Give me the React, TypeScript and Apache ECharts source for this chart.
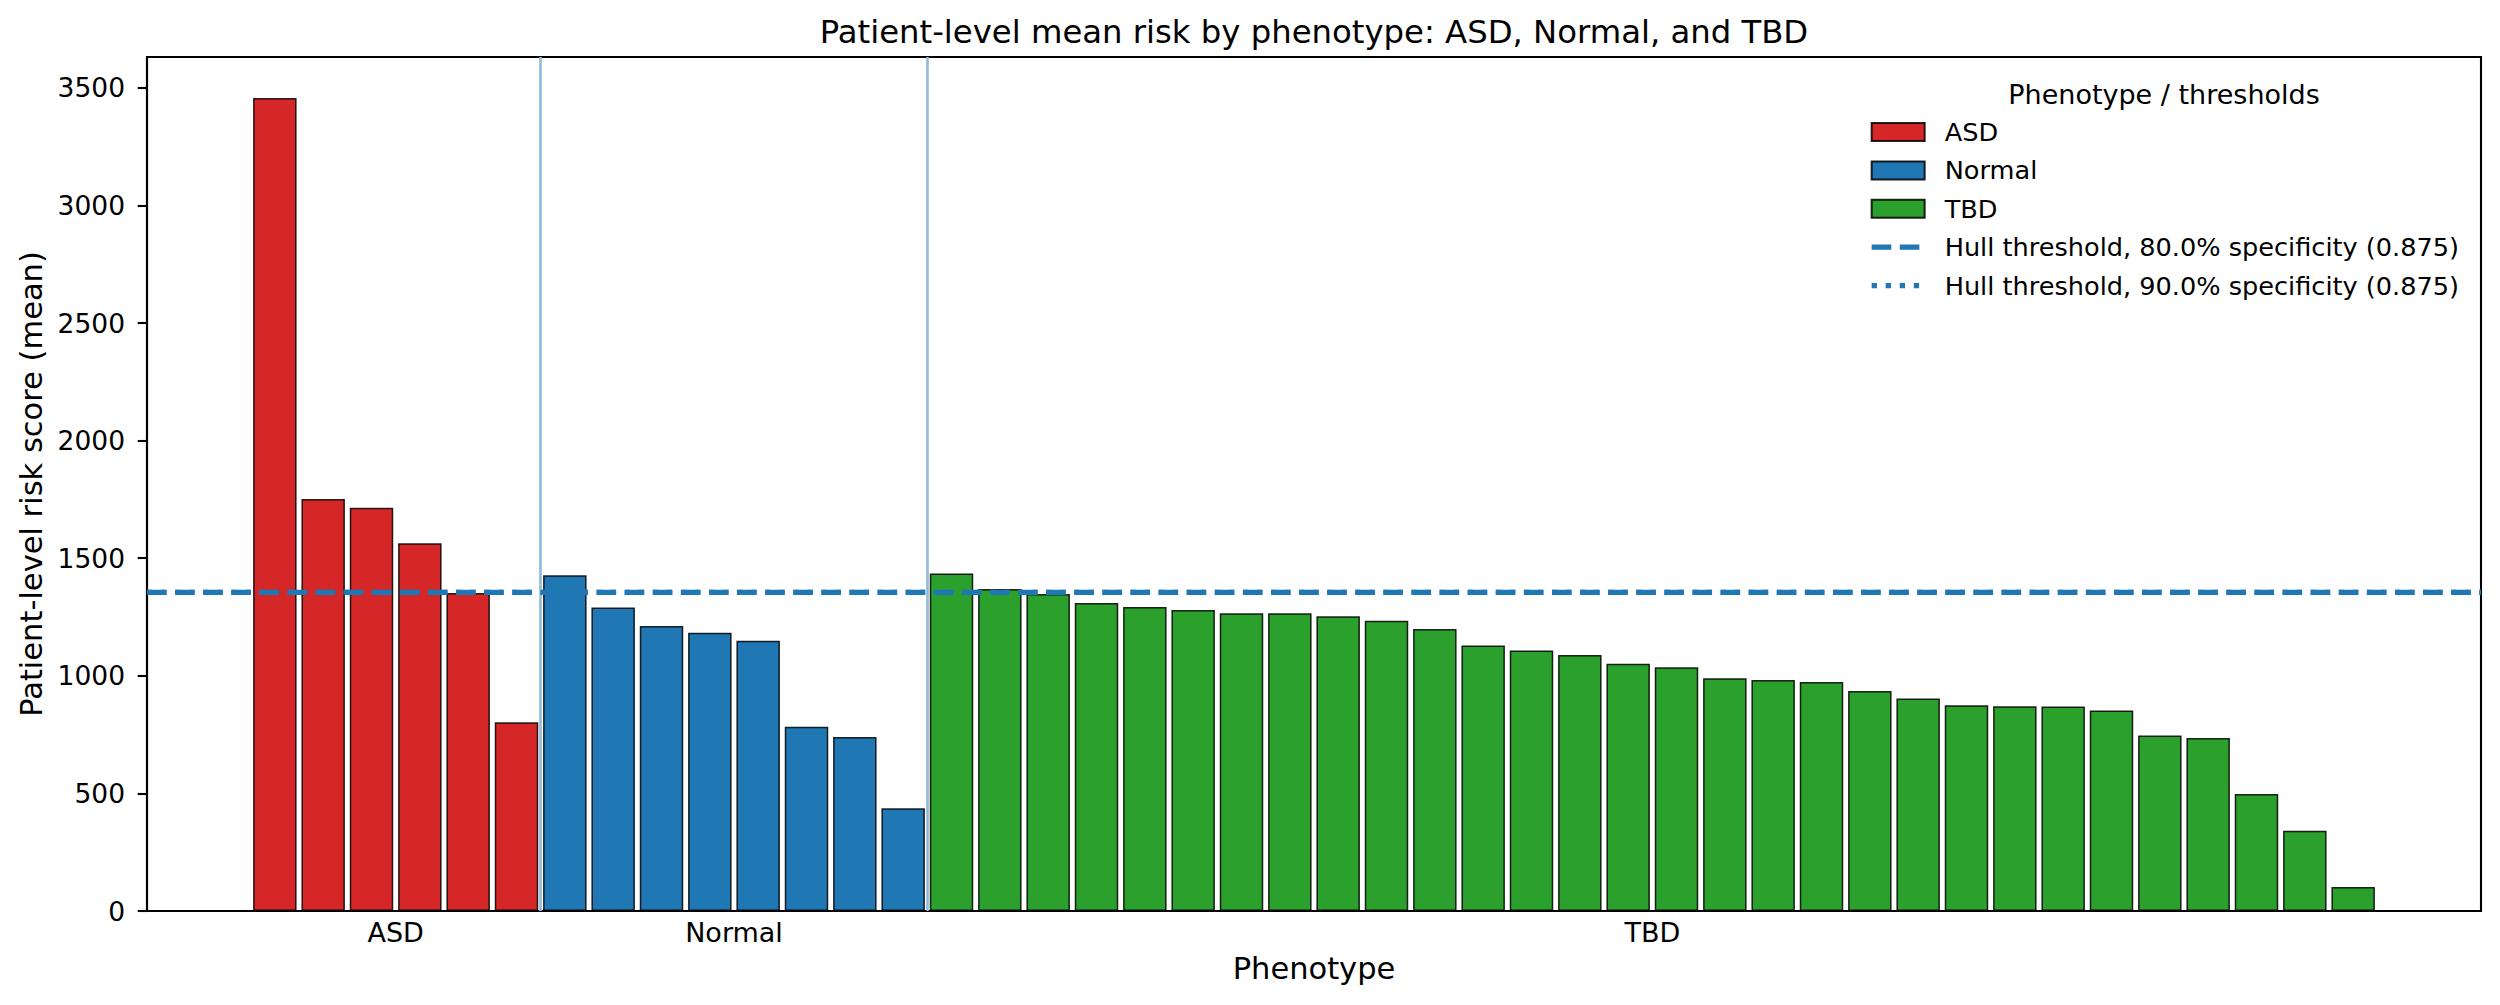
import React, { useEffect, useRef } from "react";
import * as echarts from "echarts";

const groupNames = ["ASD", "Normal", "TBD"];
const asdValues = [3457, 1752, 1714, 1564, 1352, 803];
const normalValues = [1428, 1290, 1212, 1183, 1149, 783, 740, 437];
const tbdValues = [
  1435, 1369, 1348, 1310, 1293, 1280, 1266, 1266, 1253, 1234, 1199, 1129, 1108, 1088, 1051,
  1036, 990, 982, 974, 935, 903, 875, 871, 869, 852, 746, 736, 497, 341, 102,
];
const groupColors = ["#d62728", "#1f77b4", "#2ca02c"];
const thresholdNames = [
  "Hull threshold, 80.0% specificity (0.875)",
  "Hull threshold, 90.0% specificity (0.875)",
];
const threshold80 = 1355;
const threshold90 = 1355;
const yTicks = [0, 500, 1000, 1500, 2000, 2500, 3000, 3500];
const yMax = 3631;

const FONT = '"DejaVu Sans", "Liberation Sans", sans-serif';
const W = 2500;
const H = 1005;
const GRID = { left: 147, right: 19, top: 57, bottom: 94 };
const DASHED = [19.6, 8.5];
const DOTTED = [5.3, 8.75];

export default function App() {
  const ref = useRef<HTMLDivElement>(null);

  useEffect(() => {
    document.body.style.margin = "0";
    if (!ref.current) return;
    const chart = echarts.init(ref.current, undefined, { renderer: "svg" });

    const groups = [asdValues, normalValues, tbdValues];
    const starts: number[] = [];
    let acc = 0;
    groups.forEach((g) => {
      starts.push(acc);
      acc += g.length;
    });
    const n = acc;
    const barFrac = 0.9;
    const span = n - 1 + barFrac;
    const xMin = -barFrac / 2 - 0.05 * span;
    const xMax = n - 1 + barFrac / 2 + 0.05 * span;
    const groupCenters = groups.map((g, i) => starts[i] + (g.length - 1) / 2);
    const boundaries = starts.slice(1).map((s) => s - 0.5);
    const gridW = W - GRID.left - GRID.right;
    const barWidth = (gridW / (xMax - xMin)) * barFrac;

    const barSeries = groups.map((vals, g) => ({
      name: groupNames[g],
      type: "bar",
      barWidth,
      barGap: "-100%",
      data: vals.map((v, k) => [starts[g] + k, v]),
      itemStyle: {
        color: groupColors[g],
        borderColor: "rgba(0,0,0,0.85)",
        borderWidth: 1.5,
      },
      z: 3,
      markLine:
        g === 0
          ? {
              silent: true,
              symbol: ["none", "none"],
              label: { show: false },
              lineStyle: { color: "#8fbbd9", width: 2.6, type: "solid" },
              data: boundaries.map((b) => ({ xAxis: b })),
            }
          : undefined,
    }));

    const option: any = {
      animation: false,
      backgroundColor: "#ffffff",
      textStyle: { fontFamily: FONT },
      title: {
        text: "Patient-level mean risk by phenotype: ASD, Normal, and TBD",
        left: GRID.left + gridW / 2,
        textAlign: "center",
        top: 16,
        padding: 0,
        textStyle: { fontSize: 32.3, fontWeight: "normal", color: "#000", fontFamily: FONT },
      },
      grid: {
        left: GRID.left,
        right: GRID.right,
        top: GRID.top,
        bottom: GRID.bottom,
        show: true,
        borderColor: "#000",
        borderWidth: 2.1,
        backgroundColor: "transparent",
      },
      legend: {
        orient: "vertical",
        left: 1869,
        top: 119,
        padding: 0,
        itemWidth: 53,
        itemHeight: 18,
        itemGap: 12.4,
        textStyle: {
          fontSize: 25.6,
          color: "#000",
          fontFamily: FONT,
          lineHeight: 24,
          padding: [0, 0, 0, 15],
        },
        data: [
          { name: groupNames[0], icon: "rect" },
          { name: groupNames[1], icon: "rect" },
          { name: groupNames[2], icon: "rect" },
          {
            name: thresholdNames[0],
            itemStyle: { opacity: 0 },
            lineStyle: { width: 5.3, type: DASHED, color: "#1f77b4" },
          },
          {
            name: thresholdNames[1],
            itemStyle: { opacity: 0 },
            lineStyle: { width: 5.3, type: DOTTED, color: "#1f77b4" },
          },
        ],
      },
      graphic: [
        {
          type: "text",
          x: 2164,
          y: 94,
          style: {
            text: "Phenotype / thresholds",
            fontSize: 27,
            fontFamily: FONT,
            fill: "#000",
            align: "center",
            verticalAlign: "middle",
          },
        },
      ],
      xAxis: {
        type: "value",
        min: xMin,
        max: xMax,
        axisLine: { show: true, onZero: false, lineStyle: { color: "#000", width: 2.1 } },
        axisTick: { show: false },
        splitLine: { show: false },
        axisLabel: {
          customValues: groupCenters,
          formatter: (v: number) => {
            const idx = groupCenters.findIndex((c) => Math.abs(c - v) < 1e-6);
            return idx >= 0 ? groupNames[idx] : "";
          },
          fontSize: 27,
          color: "#000",
          fontFamily: FONT,
          margin: 8,
        },
        name: "Phenotype",
        nameLocation: "middle",
        nameGap: 42,
        nameTextStyle: { fontSize: 30.5, color: "#000", fontFamily: FONT },
      },
      yAxis: {
        type: "value",
        min: 0,
        max: yMax,
        interval: 500,
        axisLine: { show: true, onZero: false, lineStyle: { color: "#000", width: 2.1 } },
        axisTick: {
          show: true,
          length: 9.3,
          customValues: yTicks,
          lineStyle: { color: "#000", width: 2.1 },
        },
        axisLabel: {
          customValues: yTicks,
          formatter: (v: number) => String(v),
          fontSize: 26.5,
          color: "#000",
          fontFamily: FONT,
          margin: 22,
        },
        splitLine: { show: false },
        name: "Patient-level risk score (mean)",
        nameLocation: "middle",
        nameGap: 91,
        nameTextStyle: { fontSize: 30.5, color: "#000", fontFamily: FONT },
      },
      series: [
        ...barSeries,
        {
          name: thresholdNames[1],
          type: "line",
          data: [
            [xMin, threshold90],
            [xMax, threshold90],
          ],
          symbol: "none",
          lineStyle: { color: "#1f77b4", width: 5.3, type: DOTTED },
          itemStyle: { color: "#1f77b4" },
          z: 4,
        },
        {
          name: thresholdNames[0],
          type: "line",
          data: [
            [xMin, threshold80],
            [xMax, threshold80],
          ],
          symbol: "none",
          lineStyle: { color: "#1f77b4", width: 5.3, type: DASHED },
          itemStyle: { color: "#1f77b4" },
          z: 5,
        },
      ],
    };

    chart.setOption(option);
    return () => chart.dispose();
  }, []);

  return <div ref={ref} style={{ width: W, height: H }} />;
}
